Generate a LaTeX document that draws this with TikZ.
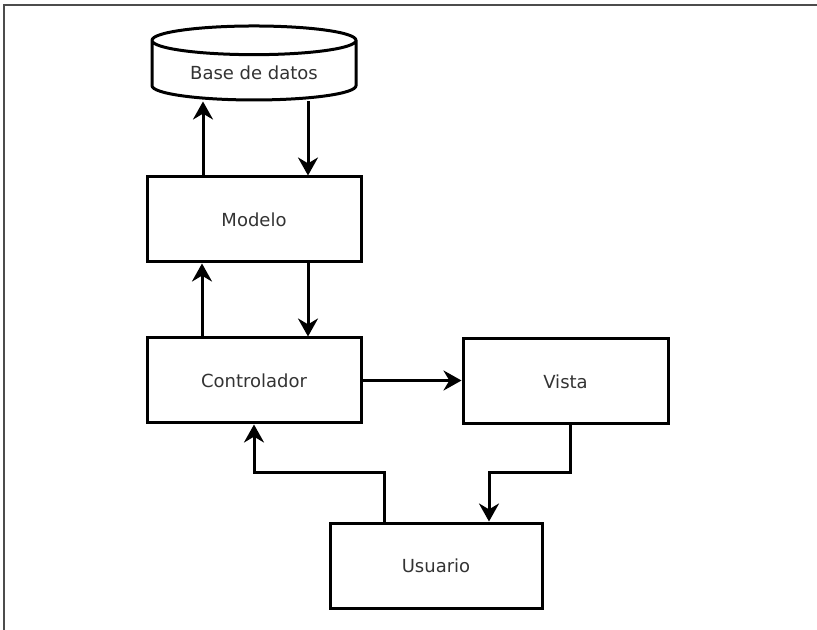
\documentclass[tikz,border=0pt]{standalone}
\usepackage{fontspec}
\setmainfont{DejaVu Sans}
\usetikzlibrary{arrows.meta, shapes.geometric}

\begin{document}
\begin{tikzpicture}[>={Stealth[length=13.5pt, width=15pt]}, % arrow head style
                x = 0.75pt, y = -0.75pt, % one unit per pixel, y going down
                line width = 2.25pt, % line style
                font = \fontsize{13.5}{16}\selectfont
            ]

            \tikzstyle{caja}=[draw = black, rectangle, text = black!80,
            minimum width = 160.5pt, minimum height = 63.75pt]
            \tikzstyle{bd}=[draw = black, cylinder, shape border rotate = 90,
            aspect = 0.21, text = black!80, minimum width = 153pt,
            minimum height = 55.5pt]
            \tikzstyle{marco}=[draw = black!70, line width = 1.5pt]

            \useasboundingbox (0,0) rectangle (817,630);
            \draw[marco] (817,5) -- (4,5) -- (4,630);

            \node[bd] (datos) at (254,73) {Base de datos};
            \node[caja] (modelo) at (254,219.5) {Modelo};
            \node[caja] (control) at (254,380.5) {Controlador};
            \node[caja, minimum width = 153.75pt] (vista) at (565.5,381.5) {Vista};
            \node[caja, minimum width = 159pt] (usuario) at (436,565.5) {Usuario};
            \coordinate (medio) at (0,472.5);

            \path[->] ([shift={(-51,0)}]modelo.north) edge ([shift={(-51,0)}]modelo.north |- datos.south);
            \path[->] ([shift={(54,0)}]datos.south -| modelo.north) edge ([shift={(54,0)}]modelo.north);
            \path[->] ([shift={(-52,0)}]control.north) edge ([shift={(-52,0)}]modelo.south);
            \path[->] ([shift={(54,0)}]modelo.south) edge ([shift={(54,0)}]control.north);
            \path[->] (control.east) edge (control.east -| vista.west);
            \draw[->] ([shift={(4.5,0)}]vista.south) -- ([shift={(4.5,0)}]vista.south |- medio)
            -| ([shift={(53,0)}]usuario.north);
            \draw[->] ([shift={(-52,0)}]usuario.north) -- ([shift={(-52,0)}]usuario.north |- medio)
            -| (control.south);
\end{tikzpicture}
\end{document}
